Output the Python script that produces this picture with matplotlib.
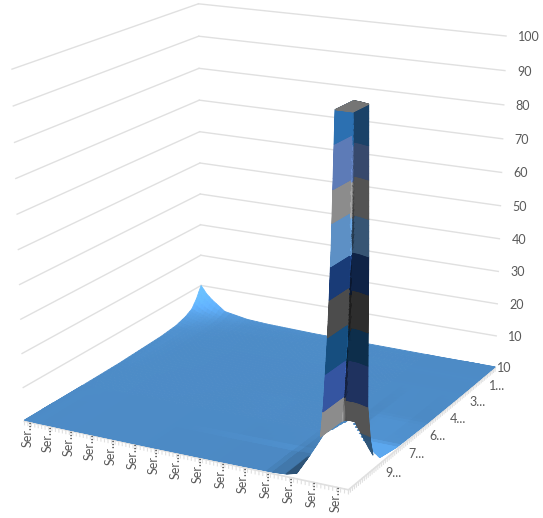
import numpy as np
import matplotlib
matplotlib.use('Agg')
import matplotlib.pyplot as plt
from matplotlib.path import Path
from mpl_toolkits.mplot3d import proj3d
from mpl_toolkits.mplot3d.art3d import Poly3DCollection

W, H = 543, 518
plt.rcParams['font.family'] = ['Lato', 'DejaVu Sans']

# Surface samples: position along the series axis and along the depth axis
series_pos = [0, .02, .04, .085, .165, .235, .4, .6, .78, .82, .853, .897, .918, .926, .935, .94, .944, .951, 1]
depth_pos = [0, .03, .06, .1, .16, .25, .5, .7, .81, .852, .87, .89, .893, .897, .902, .91, 1]

row_00 = [10, 7.5, 5.8, 2.7, 1.4, 1.0, .6, .4, .3, .25, .25, .25, .25, .25, .25, .25, .25, .25, .25]
row_01 = [6.5, 4.8, 3.6, 1.9, 1.0, .7, .45, .3, .25, .25, .25, .25, .25, .25, .25, .25, .25, .25, .25]
row_02 = [4.0, 3.2, 2.5, 1.4, .8, .6, .4, .3, .25, .25, .25, .25, .25, .25, .25, .25, .25, .25, .25]
row_03 = [2.7, 2.2, 1.7, 1.0, .6, .45, .35, .3, .25, .25, .25, .25, .25, .25, .25, .25, .25, .25, .25]
row_04 = [1.6, 1.3, 1.1, .7, .5, .4, .3, .25, .2, .2, .2, .2, .2, .2, .2, .2, .2, .2, .2]
row_05 = [1.0, .9, .7, .5, .4, .3, .25, .2, .2, .2, .2, .2, .2, .2, .2, .2, .2, .2, .2]
row_06 = [.4, .4, .35, .3, .25, .25, .2, .2, .25, .25, .3, .25, .25, .25, .25, .25, .25, .25, .3]
row_07 = [.3, .3, .3, .25, .2, .2, .2, .25, .3, .4, .7, .7, .7, .7, .7, .7, .7, .7, .7]
row_08 = [.3, .3, .25, .25, .2, .2, .2, .25, .35, .6, 1.4, 1.6, 1.8, 1.8, 1.8, 1.8, 1.8, 1.8, 1.8]
row_09 = [.3, .3, .25, .25, .2, .2, .2, .3, .45, .75, 1.6, 3.8, 3.8, 3.8, 3.8, 3.8, 3.8, 3.8, 3.8]
row_10 = [.3, .3, .25, .25, .2, .2, .2, .3, .45, .75, 1.6, 5.2, 8.8, 8.8, 8.8, 8.8, 8.8, 8.8, 8.8]
row_11 = [.3, .3, .25, .25, .2, .2, .2, .3, .45, .75, 1.6, 5.2, 13, 19, 19, 19, 19, 19, 19]
row_12 = [.3, .3, .25, .25, .2, .2, .2, .3, .45, .75, 1.6, 5.2, 13, 22, 36, 36, 36, 36, 36]
row_13 = [.3, .3, .25, .25, .2, .2, .2, .3, .45, .75, 1.6, 5.2, 13, 22, 39, 52, 60, 60, 60]
row_14 = [.3, .3, .25, .25, .2, .2, .2, .3, .45, .75, 1.6, 5.2, 13, 22, 39, 52, 65, 75, 75]
row_15 = [.3, .3, .25, .25, .2, .2, .2, .3, .45, .75, 1.6, 5.2, 13, 22, 39, 52, 65, 100, 100]
row_16 = [.3, .3, .25, .25, .2, .2, .2, .3, .45, .75, 1.6, 5.2, 13, 22, 39, 52, 65, 100, 100]
surface_rows = [row_00, row_01, row_02, row_03, row_04, row_05, row_06, row_07, row_08,
                row_09, row_10, row_11, row_12, row_13, row_14, row_15, row_16]

# The back wall of the tall peak runs at a slant across the depth axis
slant_pos = [.853, .897, .94, .95, .97, .985, 1]
slant_val = [0, .012, .016, .016, .012, .006, 0]
slant_depth = [.7, .852, .91, 1]
slant_weight = [0, 1, 1, 0]

# Open part of the surface around the tall peak
gap_series = [.85, .78, .80, .96, 1.0, 1.01, 1.01, .85]
gap_depth = [1.0, .70, .56, .77, .81, .81, 1.01, 1.01]
gap_level_pos = [.95, 1.0]
gap_level_val = [13, 4]

value_ticks = [10, 20, 30, 40, 50, 60, 70, 80, 90, 100]
series_count = 88
series_label_every = 6
depth_count = 84
depth_label_every = 12
depth_labels = ['10', '1...', '3...', '4...', '6...', '7...', '9...']

# One colour per ten-unit band, the last for the clipped top
band_colors = np.array([
    (88, 160, 228), (165, 165, 165), (62, 100, 190), (26, 92, 150), (90, 90, 90),
    (30, 70, 140), (110, 170, 232), (165, 165, 165), (110, 145, 215), (52, 132, 208), (135, 135, 135),
]) / 255

GRID = '#E0E0E0'
TEXT = '#595959'
FS = 9

fig = plt.figure(figsize=(W / 100, H / 100), dpi=100)
S = 900
ax = fig.add_axes([(W / 2 - S / 2 - 16.33) / W, (H / 2 - S / 2 + 19.92) / H, S / W, S / H], projection='3d')
ax.computed_zorder = False
ax.set_xlim(0, 1)
ax.set_ylim(0, 1)
ax.set_zlim(0, 100)
ax.set_axis_off()
ax.view_init(17.07, 27.8)
ax.set_proj_type('persp', focal_length=.4466)
ax.set_box_aspect((1.205, 1.205, 1.207), zoom=.6664)
proj = ax.get_proj()


def label(x, y, z, s, dx, dy, **kw):
    # Text sits a fixed pixel offset from its anchor on the box
    px, py, _ = proj3d.proj_transform(x, y, z, proj)
    ax.annotate(s, xy=(px, py), xycoords='data', xytext=(dx, dy), textcoords='offset pixels',
                color=TEXT, fontsize=FS, annotation_clip=False, zorder=3, **kw)


# Wall gridlines
for val in value_ticks:
    ax.plot([1, 0], [0, 0], [val, val], color=GRID, lw=1, zorder=1)
    ax.plot([0, 0], [0, 1], [val, val], color=GRID, lw=1, zorder=1)

# Floor edges with their ticks
ax.plot([1, 1], [0, 1], [0, 0], color=GRID, lw=1.2, zorder=1)
ax.plot([1, 0], [1, 1], [0, 0], color=GRID, lw=1.2, zorder=1)
for i in range(series_count + 1):
    ax.plot([1, 1], [i / series_count] * 2, [0, -1.1], color=GRID, lw=.8, zorder=1)
for i in range(depth_count + 1):
    ax.plot([i / depth_count] * 2, [1, 1], [0, -1.1], color=GRID, lw=.8, zorder=1)
for i in range(0, series_count, series_label_every):
    label(1, i / series_count, 0, 'Ser...', 3, 1, rotation=90, ha='center', va='top')
for k, lab in enumerate(depth_labels):
    pos = k * depth_label_every / depth_count
    if k == 0:
        label(pos, 1, 0, lab, 2, 0, ha='left', va='center')
    else:
        label(pos, 1.045, 0, lab, -2, 0, ha='left', va='center')
for val in value_ticks:
    label(0, 1, val, str(val), 12, -1, ha='left', va='center')


def refine(nodes, lo, hi, far, mid, near, split):
    out = [nodes[0]]
    for a, b in zip(nodes[:-1], nodes[1:]):
        if a >= lo and b <= hi:
            step = near
        elif a >= split:
            step = mid
        else:
            step = far
        n = max(2, int(np.ceil((b - a) / step)))
        out.extend(np.linspace(a, b, n + 1)[1:])
    return np.array(out)


us = refine(series_pos, .88, .96, .02, .002, .0006, .7)
vs = refine(depth_pos, .84, .92, .02, .002, .0006, .6)
table = np.array(surface_rows)
by_series = np.array([np.interp(us, series_pos, r) for r in table])
zz = np.array([np.interp(vs, depth_pos, by_series[:, j]) for j in range(len(us))]).T

# Lighting from the surface slope
dz_dv, dz_du = np.gradient(zz / 100, vs, us)
norm = np.sqrt(dz_dv ** 2 + dz_du ** 2 + 1)
nx, ny = -dz_dv / norm, -dz_du / norm
sy = np.where(ny < 0, np.interp(-ny, [0, .05, .2, .5, 1], [.87, .8, .5, .65, .85]),
              np.interp(ny, [0, .7], [.87, 1.05]))
sx = np.where(nx < 0, np.interp(-nx, [0, .1, .3, .6, 1], [.87, 1.05, 1.05, .75, .5]),
              np.interp(nx, [0, .7], [.87, 1.05]))
shade = sy * sx / .87

U, V0 = np.meshgrid(us, vs)
V = V0 - np.interp(U, slant_pos, slant_val) * np.interp(V0, slant_depth, slant_weight)


def centre(a):
    return .25 * (a[:-1, :-1] + a[1:, :-1] + a[:-1, 1:] + a[1:, 1:])


uc, vc, zc, sc = centre(U), centre(V), centre(zz), centre(shade)
gap = Path(np.c_[gap_series, gap_depth])
inside = gap.contains_points(np.c_[uc.ravel(), vc.ravel()]).reshape(uc.shape)
keep = ~(inside & (zc < np.interp(uc, gap_level_pos, gap_level_val)))

band = np.clip((zc // 10).astype(int), 0, 10)
cols = np.clip(band_colors[band] * sc[..., None], 0, 1)

quads = np.stack([
    np.stack([V[:-1, :-1], U[:-1, :-1], zz[:-1, :-1]], -1),
    np.stack([V[:-1, 1:], U[:-1, 1:], zz[:-1, 1:]], -1),
    np.stack([V[1:, 1:], U[1:, 1:], zz[1:, 1:]], -1),
    np.stack([V[1:, :-1], U[1:, :-1], zz[1:, :-1]], -1),
], axis=2)
poly = Poly3DCollection(quads[keep], facecolors=cols[keep], edgecolors=cols[keep],
                        linewidths=.6, zorder=2)
ax.add_collection3d(poly)

fig.savefig('out.png', dpi=100)
